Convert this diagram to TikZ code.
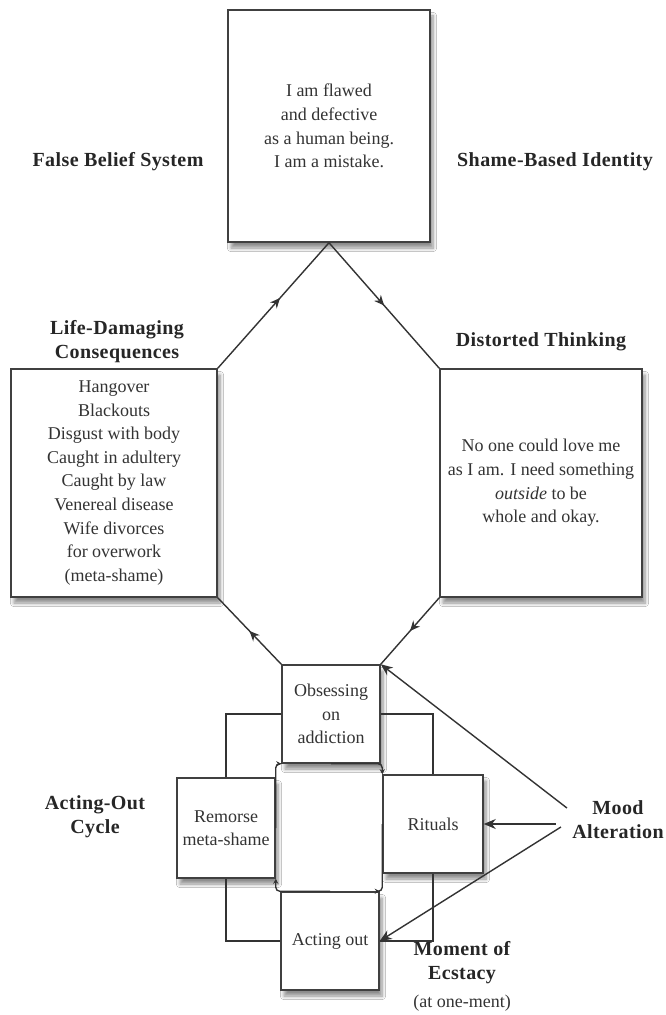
\documentclass[tikz,border=0pt]{standalone}
\usepackage{fontspec}
\setmainfont{Liberation Serif}
\newfontfamily\lblfont[LetterSpace=2]{Liberation Serif}
\usetikzlibrary{calc,arrows.meta,decorations.markings,shadows.blur}

\begin{document}
\begin{tikzpicture}[x=0.5pt,y=-0.5pt,
	box/.style={draw=black!75,line width=0.75pt,fill=white,align=center,inner sep=2pt,
		font=\fontsize{9}{11.8}\selectfont,text=black!80,
		blur shadow={shadow xshift=1.5pt,shadow yshift=-3pt,shadow blur steps=6,shadow opacity=45}},
	lbl/.style={align=center,inner sep=0pt,text=black!85,font=\lblfont\bfseries\fontsize{10}{12}\selectfont},
	conn/.style={draw=black!80,line width=0.7pt},
	arr/.style={conn,-{Stealth[length=6pt,width=5pt]}},
	cyc/.style={conn,rounded corners=2pt,-{Stealth[length=2.5pt,width=2.5pt]}},
	midarrow/.style={postaction={decorate},decoration={markings,mark=at position #1 with {\arrow{Stealth[length=5pt,width=4.5pt]}}}},
	midarrow/.default=.5]
			          %\draw[help lines] (0,0) grid (665,1015);
			          \path[use as bounding box,fill=white] (0,0) rectangle (665,1015);
			          %TOP BOX
			          \node[box,minimum width=101pt,minimum height=116pt] (top) at (329,126) {I am flawed\\and defective\\as a human being.\\I am a mistake.};
			          %LEFT AND RIGHT
			          \node[box,minimum width=103pt,minimum height=114pt] (cons) at (114,483) {Hangover\\Blackouts\\Disgust with body\\Caught in adultery\\Caught by law\\Venereal disease\\Wife divorces\\for overwork\\(meta-shame)};
			          \node[box,minimum width=101pt,minimum height=114pt] (think) at (541,483) {No one could love me\\as I am. I need something\\\emph{outside} to be\\whole and okay.};
			          %CYCLE
			          \node[box,minimum width=49pt,minimum height=49pt] (obs) at (331,714) {Obsessing\\on\\addiction};
			          \node[box,minimum width=49pt,minimum height=50pt] (rem) at (226,828) {Remorse\\meta-shame};
			          \node[box,minimum width=50pt,minimum height=49pt] (rit) at (433,824) {Rituals};
			          \node[box,minimum width=49pt,minimum height=49pt] (act) at (330,941) {Acting out};
			          %titles
			          \node[lbl] (fbs) at (118,162) {False Belief System};
			          \node[lbl] (sbi) at (555,162) {Shame-Based Identity};
			          \node[lbl] (ldc) at (117,342) {Life-Damaging\\Consequences};
			          \node[lbl] (dth) at (541,342) {Distorted Thinking};
			          \node[lbl] (aoc) at (95,817) {Acting-Out\\Cycle};
			          \node[lbl] (mood) at (618,820) {Mood\\Alteration};
			          \node[lbl] (ecst) at (462,963) {Moment of\\Ecstacy};
			          \node[inner sep=0pt,text=black!80,font=\fontsize{9}{11}\selectfont] (onement) at (462,1003) {(at one-ment)};
			          %big loop
			          \draw[conn,midarrow=.56] (cons.north east) -- (top.south);
			          \draw[conn,midarrow] (top.south) -- (think.north west);
			          \draw[conn,midarrow] (think.south west) -- (obs.north east);
			          \draw[conn,midarrow] (obs.north west) -- (cons.south east);
			          %outer elbows
			          \draw[conn] (obs.west) -| (rem.north);
			          \draw[conn] (obs.east) -| (rit.north);
			          \draw[conn] (rit.south) |- (act.east);
			          \draw[conn] (rem.south) |- (act.west);
			          %inner square
			          \draw[cyc] (obs.south) -| (rit.north west);
			          \draw[cyc] (rit.west) -- (rit.south west) |- (act.north east);
			          \draw[cyc] (act.north) -| (rem.south east);
			          \draw[cyc] (rem.east) |- (obs.south west);
			          %mood alteration
			          \draw[arr] ([xshift=-2.5pt,yshift=6pt]mood.west) -- (obs.north east);
			          \draw[arr] ([xshift=-8pt]rit.east -| mood.west) -- (rit.east);
			          \draw[arr] ([xshift=-5.5pt,yshift=-3.5pt]mood.west) -- (act.east);
\end{tikzpicture}
\end{document}
